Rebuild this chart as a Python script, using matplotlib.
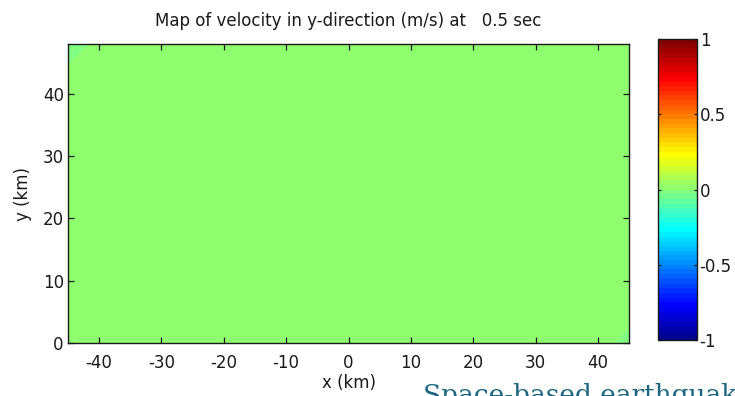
import matplotlib
matplotlib.use("Agg")
import matplotlib.pyplot as plt
import numpy as np
from matplotlib.colors import ListedColormap, Normalize
from matplotlib.cm import ScalarMappable

# ── Data (velocity field, m/s) ───────────────────────────────────────────────
x_km = [-45, -36, -27, -18, -9, 0, 9, 18, 27, 36, 45]
y_km = [0, 8, 16, 24, 32, 40, 48]
# rows go bottom (y=0) -> top (y=48)
vy = [
    [0.010, 0.010, 0.010, 0.010, 0.010, 0.010, 0.010, 0.010, 0.010, 0.029, -0.010],
    [0.010, 0.010, 0.010, 0.010, 0.010, 0.010, 0.010, 0.010, 0.010, 0.010, 0.021],
    [0.010, 0.010, 0.010, 0.010, 0.010, 0.010, 0.010, 0.010, 0.010, 0.010, 0.010],
    [0.010, 0.010, 0.010, 0.010, 0.010, 0.010, 0.010, 0.010, 0.010, 0.010, 0.010],
    [0.010, 0.010, 0.010, 0.010, 0.010, 0.010, 0.010, 0.010, 0.010, 0.010, 0.010],
    [0.0135, 0.010, 0.010, 0.010, 0.010, 0.010, 0.010, 0.010, 0.010, 0.010, 0.010],
    [-0.010, 0.0157, 0.010, 0.010, 0.010, 0.010, 0.010, 0.010, 0.010, 0.010, 0.010],
]
c_ticks = [-1, -0.5, 0, 0.5, 1]
c_labels = ["-1", "-0.5", "0", "0.5", "1"]
x_ticks = [-40, -30, -20, -10, 0, 10, 20, 30, 40]
y_ticks = [0, 10, 20, 30, 40]

TITLE = "Map of velocity in y-direction (m/s) at   0.5 sec"
FOOTER = "Space-based earthquake"

# ── MATLAB-style jet(64) ─────────────────────────────────────────────────────
def matlab_jet(m=64):
    n = int(np.ceil(m / 4))
    u = np.concatenate([np.arange(1, n + 1) / n, np.ones(n - 1), np.arange(n, 0, -1) / n])
    g = int(np.ceil(n / 2)) - int(m % 4 == 1) + np.arange(1, len(u) + 1)
    r = g + n
    b = g - n
    r = r[r <= m]; g = g[g <= m]; b = b[b >= 1]
    J = np.zeros((m, 3))
    J[r - 1, 0] = u[:len(r)]
    J[g - 1, 1] = u[:len(g)]
    J[b - 1, 2] = u[len(u) - len(b):]
    return ListedColormap(J)

cmap = matlab_jet(64)
norm = Normalize(-1, 1)

plt.rcParams["font.family"] = ["DejaVu Sans"]
plt.rcParams["axes.unicode_minus"] = False
TEXT = "#1a1a1a"
FS = 12

fig = plt.figure(figsize=(7.35, 3.96), dpi=100, facecolor="white")
ax = fig.add_axes([0.0925, 0.1338, 0.7633, 0.7551])
cax = fig.add_axes([0.8952, 0.1414, 0.0530, 0.7601])

ax.contourf(x_km, y_km, np.array(vy), levels=np.linspace(-1, 1, 65),
            cmap=cmap, norm=norm)
ax.set_xlim(-45, 45)
ax.set_ylim(0, 48)
ax.set_xticks(x_ticks)
ax.set_yticks(y_ticks)
ax.tick_params(direction="in", top=True, right=True, length=4.5, width=0.9,
               labelsize=FS, colors=TEXT)
ax.tick_params(axis="x", pad=8)
ax.tick_params(axis="y", pad=3)
for sp in ax.spines.values():
    sp.set_color(TEXT); sp.set_linewidth(1.0)
ax.set_xlabel("x (km)", fontsize=FS, color=TEXT, labelpad=1)
ax.set_ylabel("y (km)", fontsize=FS, color=TEXT, labelpad=8)
ax.set_title(TITLE, fontsize=FS, color=TEXT, pad=13)

cb = fig.colorbar(ScalarMappable(norm=norm, cmap=cmap), cax=cax)
cb.set_ticks(c_ticks)
cb.set_ticklabels(c_labels)
cax.tick_params(direction="in", left=True, right=True, length=2.5, width=0.9,
                labelsize=FS, colors=TEXT, pad=2)
cb.outline.set_edgecolor(TEXT)
cb.outline.set_linewidth(1.0)

fig.text(423 / 735, -0.017, FOOTER, fontsize=19, color="#1d6680",
         family=["DejaVu Serif"], ha="left", va="baseline")

fig.savefig("out.png", dpi=100, facecolor="white")
